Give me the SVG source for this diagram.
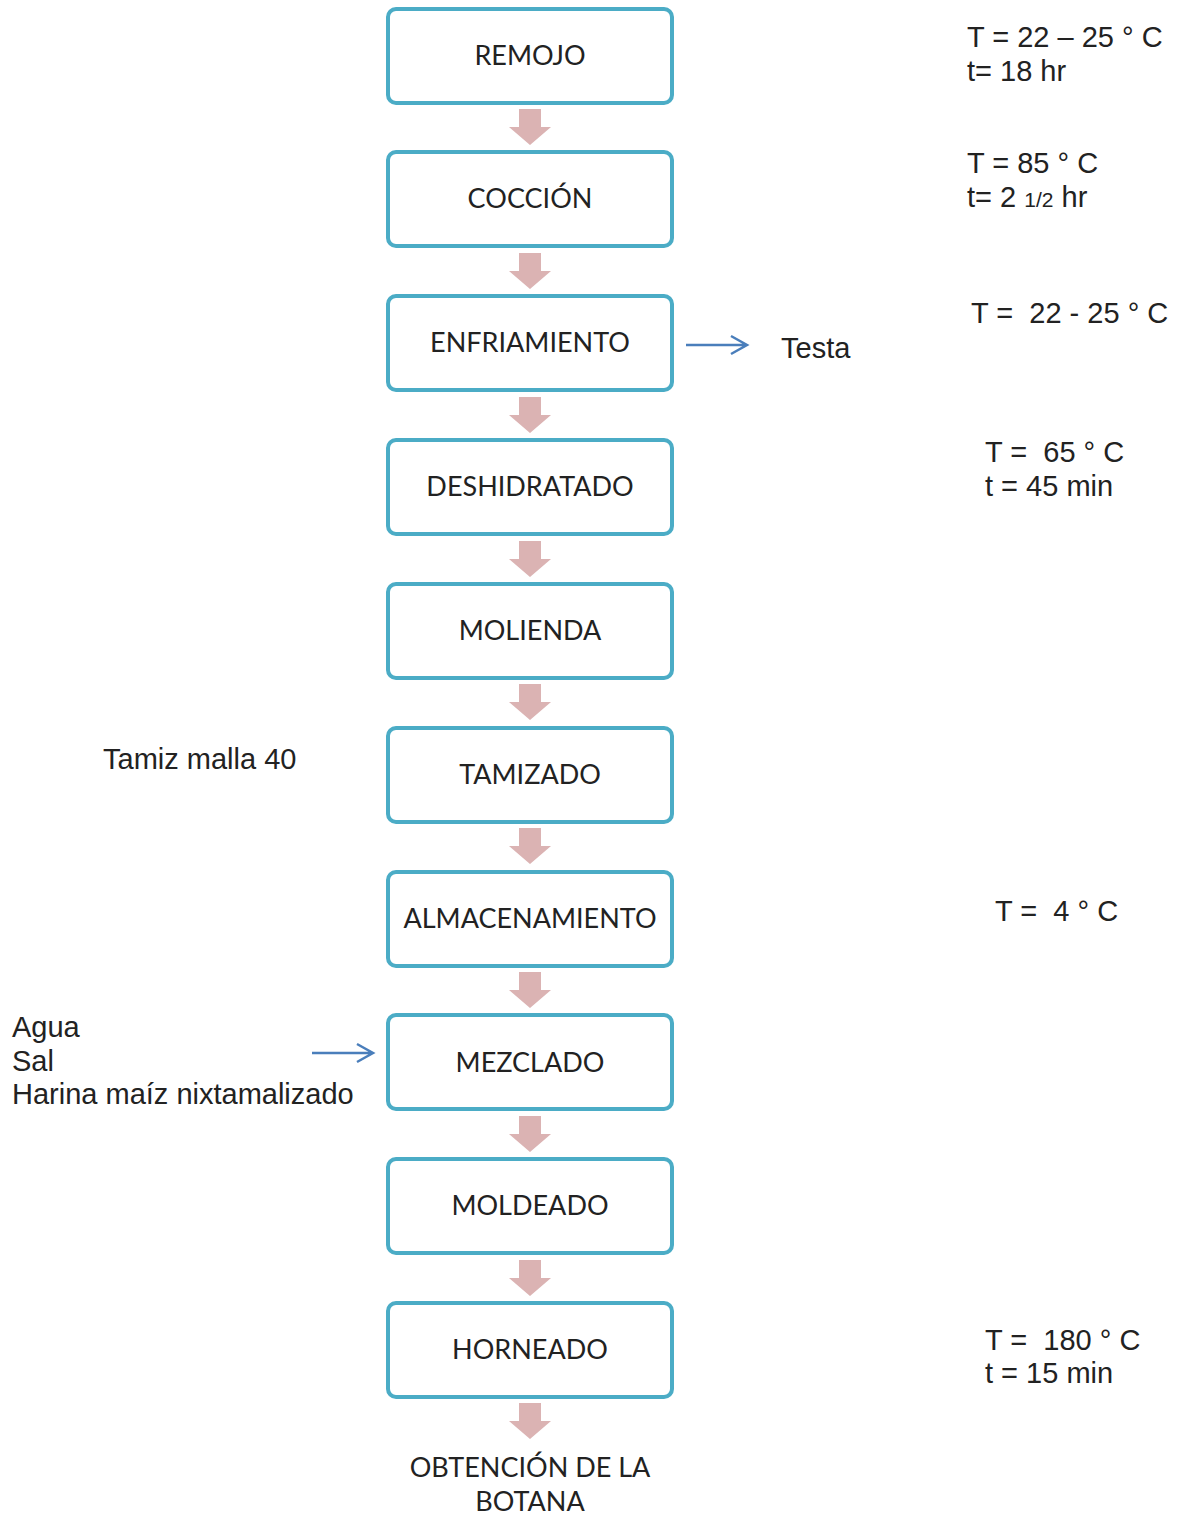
<svg xmlns="http://www.w3.org/2000/svg" width="1184" height="1516" viewBox="0 0 1184 1516">
<style>
.box{fill:#fff;stroke:#4bacc6;stroke-width:4}
.bt{font-family:Lato,"Open Sans",sans-serif;font-size:27px;fill:#222;text-anchor:middle}
.nt{font-family:"Liberation Sans",Arial,sans-serif;font-size:29px;fill:#222}
.da{fill:#dbb3b3}
.ba{fill:none;stroke:#4a7ebb;stroke-width:2.5}
</style>
<defs>
<path id="down" d="M-11,0H11V18H21L0,36L-21,18H-11Z"/>
</defs>
<rect width="1184" height="1516" fill="#fff"/>
<g id="connectors">
<use href="#down" class="da" x="530" y="109"/>
<use href="#down" class="da" x="530" y="253"/>
<use href="#down" class="da" x="530" y="397"/>
<use href="#down" class="da" x="530" y="541"/>
<use href="#down" class="da" x="530" y="684"/>
<use href="#down" class="da" x="530" y="828"/>
<use href="#down" class="da" x="530" y="972"/>
<use href="#down" class="da" x="530" y="1116"/>
<use href="#down" class="da" x="530" y="1260"/>
<use href="#down" class="da" x="530" y="1403"/>
<path class="ba" d="M686,345H747M731,336L747,345L731,354"/>
<path class="ba" d="M312,1053H373M357,1044L373,1053L357,1062"/>
</g>
<g id="n1"><rect class="box" x="388" y="9" width="284" height="94" rx="8"/><text class="bt" x="530" y="65">REMOJO</text></g>
<g id="n2"><rect class="box" x="388" y="152" width="284" height="94" rx="8"/><text class="bt" x="530" y="208">COCCIÓN</text></g>
<g id="n3"><rect class="box" x="388" y="296" width="284" height="94" rx="8"/><text class="bt" x="530" y="352">ENFRIAMIENTO</text></g>
<g id="n4"><rect class="box" x="388" y="440" width="284" height="94" rx="8"/><text class="bt" x="530" y="496">DESHIDRATADO</text></g>
<g id="n5"><rect class="box" x="388" y="584" width="284" height="94" rx="8"/><text class="bt" x="530" y="640">MOLIENDA</text></g>
<g id="n6"><rect class="box" x="388" y="728" width="284" height="94" rx="8"/><text class="bt" x="530" y="784">TAMIZADO</text></g>
<g id="n7"><rect class="box" x="388" y="872" width="284" height="94" rx="8"/><text class="bt" x="530" y="928">ALMACENAMIENTO</text></g>
<g id="n8"><rect class="box" x="388" y="1015" width="284" height="94" rx="8"/><text class="bt" x="530" y="1072">MEZCLADO</text></g>
<g id="n9"><rect class="box" x="388" y="1159" width="284" height="94" rx="8"/><text class="bt" x="530" y="1215">MOLDEADO</text></g>
<g id="n10"><rect class="box" x="388" y="1303" width="284" height="94" rx="8"/><text class="bt" x="530" y="1359">HORNEADO</text></g>
<g id="n11"><text class="bt" x="530" y="1477">OBTENCIÓN DE LA</text><text class="bt" x="530" y="1511">BOTANA</text></g>
<g id="notes">
<text class="nt" x="967" y="47">T = 22 – 25 ° C</text>
<text class="nt" x="967" y="81">t= 18 hr</text>
<text class="nt" x="967" y="173">T = 85 ° C</text>
<text class="nt" x="967" y="207">t= 2 <tspan font-size="21">1/2</tspan> hr</text>
<text class="nt" x="971" y="323" xml:space="preserve">T =  22 - 25 ° C</text>
<text class="nt" x="781" y="358">Testa</text>
<text class="nt" x="985" y="462" xml:space="preserve">T =  65 ° C</text>
<text class="nt" x="985" y="496">t = 45 min</text>
<text class="nt" x="103" y="769">Tamiz malla 40</text>
<text class="nt" x="995" y="921" xml:space="preserve">T =  4 ° C</text>
<text class="nt" x="12" y="1037">Agua</text>
<text class="nt" x="12" y="1071">Sal</text>
<text class="nt" x="12" y="1104">Harina maíz nixtamalizado</text>
<text class="nt" x="985" y="1350" xml:space="preserve">T =  180 ° C</text>
<text class="nt" x="985" y="1383">t = 15 min</text>
</g>
</svg>
